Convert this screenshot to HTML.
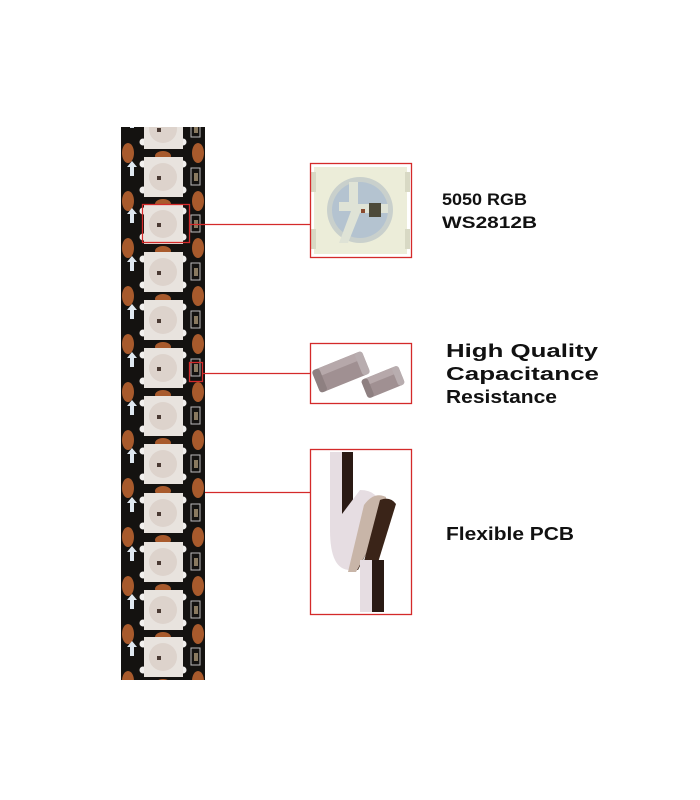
<!DOCTYPE html>
<html><head><meta charset="utf-8"><style>
html,body{margin:0;padding:0;background:#fff;width:700px;height:800px;overflow:hidden}
svg{display:block}
text{font-family:"Liberation Sans",Arial,sans-serif;font-weight:bold;fill:#111}
</style></head><body>
<svg width="700" height="800" viewBox="0 0 700 800" xmlns="http://www.w3.org/2000/svg">
<defs>
<g id="u">
  <ellipse cx="128" cy="24" rx="6" ry="10" fill="#a85a2c"/>
  <ellipse cx="198" cy="24" rx="6" ry="10" fill="#a85a2c"/>
  <ellipse cx="163" cy="27" rx="8" ry="5" fill="#a85a2c"/>
  <path d="M132 -16 l-5 6 h3 v9 h4 v-9 h3z" fill="#dfe8f0"/>
  <rect x="191" y="-9" width="9" height="17" fill="none" stroke="#bbb" stroke-width="1"/>
  <rect x="194" y="-4" width="4" height="8" fill="#8a7a60"/>
  <circle cx="143" cy="-13" r="3.5" fill="#f2f0ee"/>
  <circle cx="183" cy="-13" r="3.5" fill="#f2f0ee"/>
  <circle cx="143" cy="13" r="3.5" fill="#f2f0ee"/>
  <circle cx="183" cy="13" r="3.5" fill="#f2f0ee"/>
  <rect x="144" y="-20" width="39" height="40" fill="#e8e3de"/>
  <circle cx="163" cy="0" r="14" fill="#ddd3cc"/>
  <rect x="157" y="-1" width="4" height="4" fill="#4a3a33"/>
</g>
</defs>
<rect x="121" y="127" width="84" height="553" fill="#141210"/>
<g>
<use href="#u" y="129"/>
<use href="#u" y="177"/>
<use href="#u" y="224"/>
<use href="#u" y="272"/>
<use href="#u" y="320"/>
<use href="#u" y="368"/>
<use href="#u" y="416"/>
<use href="#u" y="464"/>
<use href="#u" y="513"/>
<use href="#u" y="562"/>
<use href="#u" y="610"/>
<use href="#u" y="657"/>
</g>
<rect x="110" y="680" width="110" height="20" fill="#fff"/>
<rect x="110" y="100" width="110" height="27" fill="#fff"/>
<rect x="142.5" y="204.5" width="47" height="38" fill="none" stroke="#d42a2a" stroke-width="1.3"/>
<rect x="189.5" y="362.5" width="13" height="19" fill="none" stroke="#d42a2a" stroke-width="1.3"/>
<line x1="190" y1="224.5" x2="310" y2="224.5" stroke="#d42a2a" stroke-width="1.3"/>
<line x1="203" y1="373.5" x2="310" y2="373.5" stroke="#d42a2a" stroke-width="1.3"/>
<line x1="205" y1="492.5" x2="310" y2="492.5" stroke="#d42a2a" stroke-width="1.3"/>
<rect x="314" y="167" width="93" height="87" fill="#ecedd9"/>
<rect x="311" y="172" width="5" height="20" fill="#d8d9c4"/>
<rect x="311" y="229" width="5" height="20" fill="#d8d9c4"/>
<rect x="405" y="172" width="5" height="20" fill="#d8d9c4"/>
<rect x="405" y="229" width="5" height="20" fill="#d8d9c4"/>
<circle cx="360" cy="210" r="33" fill="#c9d0cc"/>
<circle cx="360" cy="210" r="28" fill="#b4c3d0"/>
<path d="M349 182 h9 v22 h30 v9 h-28 l-12 30 h-9 l12 -32 h-12 v-9 h10z" fill="#dfe3d6"/>
<rect x="369" y="203" width="12" height="14" fill="#4d4a3a"/>
<rect x="361" y="209" width="4" height="4" fill="#8a4a30"/>
<rect x="310.5" y="163.5" width="101" height="94" fill="none" stroke="#d42a2a" stroke-width="1.3"/>
<g transform="rotate(-22 341 372)">
<rect x="314" y="360" width="54" height="24" rx="4" fill="#a09092"/>
<rect x="314" y="360" width="54" height="8" rx="3" fill="#b6a8aa"/>
<rect x="314" y="360" width="8" height="24" rx="3" fill="#8e8081"/>
<rect x="360" y="360" width="8" height="24" rx="3" fill="#b8adaf"/>
</g>
<g transform="rotate(-22 383 382)">
<rect x="363" y="372" width="40" height="20" rx="4" fill="#a09092"/>
<rect x="363" y="372" width="40" height="7" rx="3" fill="#b6a8aa"/>
<rect x="363" y="372" width="7" height="20" rx="3" fill="#8e8081"/>
<rect x="396" y="372" width="7" height="20" rx="3" fill="#b8adaf"/>
</g>
<rect x="310.5" y="343.5" width="101" height="60" fill="none" stroke="#d42a2a" stroke-width="1.3"/>
<g>
<rect x="330" y="452" width="13" height="80" fill="#e6dde2"/>
<rect x="342" y="452" width="11" height="80" fill="#2a1a14"/>
<path d="M330 530 q0 40 20 40 l30 -60 q0 -20 -20 -20z" fill="#e6dde2"/>
<path d="M350 570 l30 -60 l8 0 l-30 60z" fill="#3a2418"/>
<path d="M364 505 q10 -14 22 -8 l0 20 l-30 55 l-8 0z" fill="#c8b5a8"/>
<path d="M380 500 q10 -4 16 4 l-20 65 l-14 0z" fill="#3a2418"/>
<rect x="360" y="560" width="13" height="52" fill="#e6dde2"/>
<rect x="372" y="560" width="12" height="52" fill="#2a1a14"/>
</g>
<rect x="310.5" y="449.5" width="101" height="165" fill="none" stroke="#d42a2a" stroke-width="1.3"/>
<text x="442" y="205" font-size="17" textLength="85" lengthAdjust="spacingAndGlyphs">5050 RGB</text>
<text x="442" y="228" font-size="17" textLength="95" lengthAdjust="spacingAndGlyphs">WS2812B</text>
<text x="446" y="357" font-size="18" textLength="152" lengthAdjust="spacingAndGlyphs">High Quality</text>
<text x="446" y="380" font-size="18" textLength="153" lengthAdjust="spacingAndGlyphs">Capacitance</text>
<text x="446" y="403" font-size="18" textLength="111" lengthAdjust="spacingAndGlyphs">Resistance</text>
<text x="446" y="540" font-size="18" textLength="128" lengthAdjust="spacingAndGlyphs">Flexible PCB</text>
</svg>
</body></html>
